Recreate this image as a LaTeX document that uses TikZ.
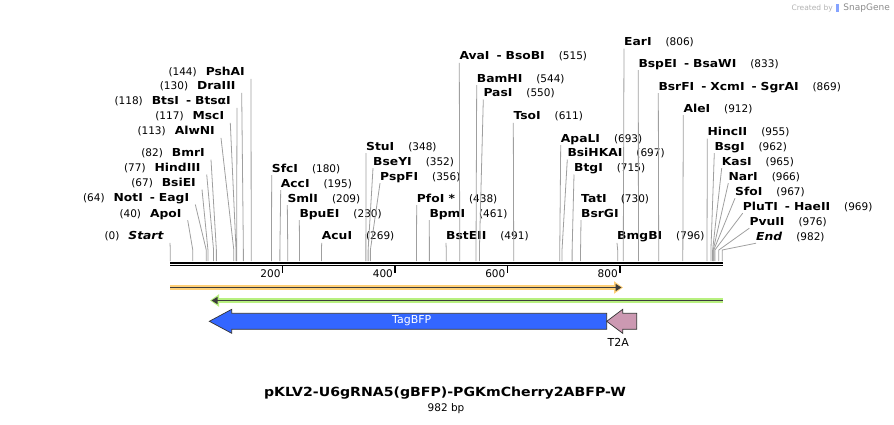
\documentclass[tikz,border=0pt]{standalone}
\usepackage{fontspec}
\setmainfont{DejaVu Sans}
\newfontfamily\enzb{DejaVu Sans}[FakeStretch=1.12]
\usetikzlibrary{arrows.meta}
\definecolor{orgl}{RGB}{255,208,120}
\definecolor{grnl}{RGB}{184,240,128}
\definecolor{bfp}{RGB}{51,102,255}
\definecolor{tta}{RGB}{204,153,178}
\definecolor{featline}{RGB}{60,60,60}
\newcommand{\dsh}{\hspace{7pt}-\hspace{4pt}}
\newcommand{\bpx}[1]{170.3+0.562*#1}
\newcommand{\enzname}[1]{{\enzb\bfseries\fontsize{11}{12}\selectfont #1}}

\begin{document}
\begin{tikzpicture}[x=1pt,y=-1pt,
  enz/.style={inner xsep=0pt,inner ysep=1pt,text height=8pt,text depth=2pt,
    font=\fontsize{10.5}{12}\selectfont},
  cut/.style={draw=gray!75,line width=0.8pt},
  tick/.style={line width=1.4pt},
  ticklbl/.style={anchor=east,inner sep=0pt,font=\fontsize{10.5}{12}\selectfont},
  featbox/.style={draw=black!80,line width=0.7pt}]
\useasboundingbox (0,0) rectangle (894,424);
\node[anchor=east,inner sep=0pt,text=black!45,font=\fontsize{9}{10}\selectfont] (snapg) at (890,8) {SnapGene};
\node[anchor=east,inner sep=0pt,text=black!30,font=\fontsize{7.5}{8}\selectfont] (credit) at (833,8) {Created by};
\fill[bfp!60] (836,4) rectangle (838.5,12);

\coordinate (bbl) at (170.3,262.5);
\coordinate (bbr) at (722.5,262.5);
\coordinate (bbl2) at (170.3,265.6);
\coordinate (bbr2) at (722.5,265.6);
\draw[line width=2pt] (bbl) -- (bbr);
\draw[line width=1.3pt] (bbl2) -- (bbr2);
\foreach \t in {200,400,600,800}{
  \coordinate (tk\t) at ({\bpx{\t}},266);
  \node[ticklbl] (tl\t) at ({\bpx{\t}-2},274) {\t};
  \draw[tick] (tk\t) -- ++(0,7);
}

\foreach \bp/\yy/\xr/\nm [count=\i] in {
  0/236.7/164/\textit{Start},
  40/214/181.7/ApoI,
  64/198.3/189.3/NotI\dsh EagI,
  67/183.3/196/BsiEI,
  77/168.3/200.7/HindIII,
  82/153.5/205/BmrI,
  113/131.7/215/AlwNI,
  117/116.7/224.3/MscI,
  118/101.7/231/BtsI\dsh BtsαI,
  130/86.7/235.7/DraIII,
  144/72.7/245/PshAI}{
  \coordinate (ls\i) at ({\bpx{\bp}},250);
  \coordinate (lb\i) at ({\bpx{\bp}},261);
  \node[enz,anchor=east] (l\i) at (\xr,\yy) {(\bp)\hspace{9pt}\enzname{\nm}};
  \draw[cut] ([xshift=6pt]l\i.south east) -- (ls\i) -- (lb\i);
}

\foreach \bp/\xl/\yy/\nm/\nr [count=\i] in {
  180/271.7/169/SfcI/(180),
  195/280.7/184/AccI/(195),
  209/287.3/199/SmlI/(209),
  230/299.3/214/BpuEI/(230),
  269/321.7/236.7/AcuI/(269),
  348/366/147/StuI/(348),
  352/373/162/BseYI/(352),
  356/380/177/PspFI/(356),
  438/416.7/199/PfoI */(438),
  461/429.3/214/BpmI/(461),
  491/446/236.7/BstEII/(491),
  515/459.3/56.7/AvaI\dsh BsoBI/(515),
  544/476.7/79/BamHI/(544),
  550/483.3/93.3/PasI/(550),
  611/513.3/116.7/TsoI/(611),
  693/560.7/139/ApaLI/(693),
  697/567.3/153.3/BsiHKAI/(697),
  715/574/168.3/BtgI/(715),
  730/581/214/BsrGI/{},
  796/617/236.7/BmgBI/(796),
  806/624/42.3/EarI/(806),
  833/638.3/64/BspEI\dsh BsaWI/(833),
  869/658.3/87/BsrFI\dsh XcmI\dsh SgrAI/(869),
  912/683.3/109/AleI/(912),
  955/707.3/132.3/HincII/(955),
  962/714.3/147/BsgI/(962),
  965/721.7/162/KasI/(965),
  966/728.3/177/NarI/(966),
  967/735/192/SfoI/(967),
  969/742.7/207/PluTI\dsh HaeII/(969),
  976/749.3/222/PvuII/(976),
  982/756/237/\textit{End}/(982)}{
  \coordinate (rs\i) at ({\bpx{\bp}},250);
  \coordinate (rb\i) at ({\bpx{\bp}},261);
  \node[enz,anchor=west] (r\i) at (\xl,\yy) {\enzname{\nm}\hspace{14pt}\nr};
  \draw[cut] (r\i.south west) -- (rs\i) -- (rb\i);
}
\node[enz,anchor=west] (tati) at (581,199) {\enzname{TatI}\hspace{14pt}(730)};

\coordinate (o1) at (170.3,287.5);
\coordinate (o2) at (623,287.5);
\draw[line width=5.5pt,draw=orgl,-{Triangle[length=9pt,width=12pt]}] (o1) -- (o2);
\draw[line width=1.8pt,draw=featline,-{Triangle[length=6pt,width=7pt]}] (o1) -- ([xshift=-1.5pt]o2);
\coordinate (g1) at (722.5,300.5);
\coordinate (g2) at (210,300.5);
\draw[line width=5.5pt,draw=grnl,-{Triangle[length=9pt,width=12pt]}] (g1) -- (g2);
\draw[line width=1.8pt,draw=featline,-{Triangle[length=6pt,width=7pt]}] (g1) -- ([xshift=1.5pt]g2);

\draw[featbox,fill=bfp] (606.7,313.3) -- (231.7,313.3) -- (231.7,309.3) -- (209.3,321.3)
  -- (231.7,333.3) -- (231.7,329.3) -- (606.7,329.3) -- cycle;
\node[text=white,font=\fontsize{11}{12}\selectfont] (tagbfp) at (411.7,321) {TagBFP};
\draw[featbox,fill=tta] (606.7,321.3) -- (622.7,309.3) -- (622.7,313.3) -- (636.7,313.3)
  -- (636.7,329.3) -- (622.7,329.3) -- (622.7,333.3) -- cycle;
\node[font=\fontsize{11}{12}\selectfont] (t2a) at (618.3,342.7) {T2A};

\node[font=\enzb\bfseries\fontsize{12.6}{15}\selectfont] (title) at (445,393.3)
  {pKLV2-U6gRNA5(gBFP)-PGKmCherry2ABFP-W};
\node[font=\fontsize{10.5}{12}\selectfont] (size) at (446,408.3) {982 bp};
\end{tikzpicture}
\end{document}
